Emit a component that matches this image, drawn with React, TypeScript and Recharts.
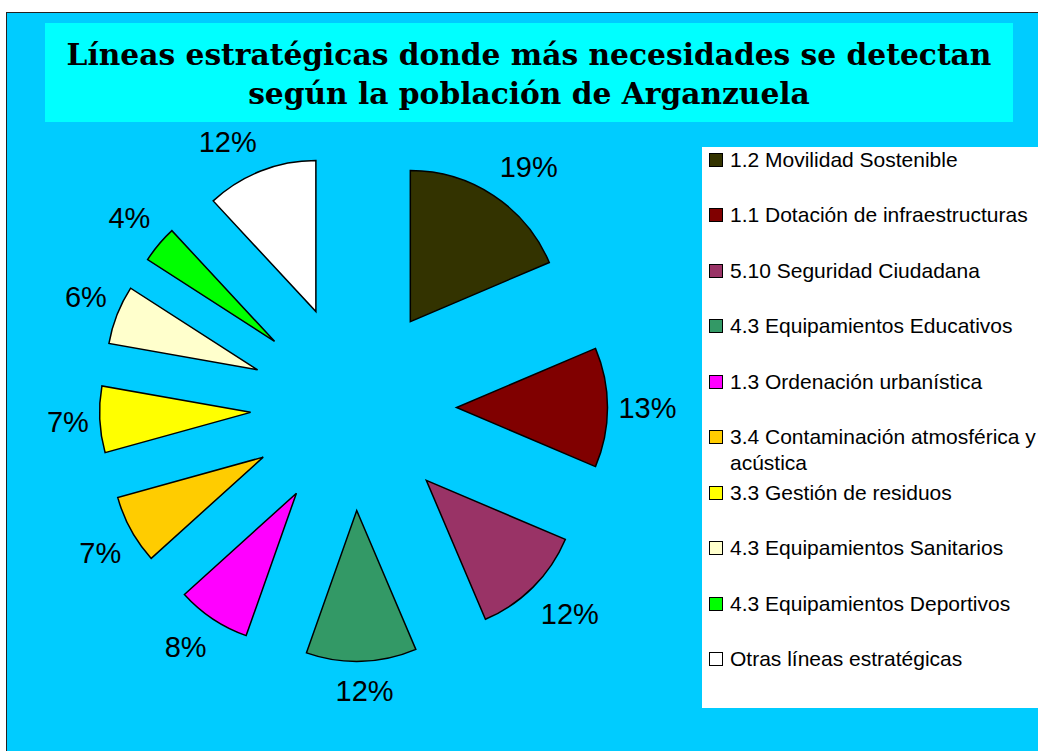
import React from 'react';
import { PieChart, Pie, Legend, Sector } from 'recharts';

// categories in clockwise order, starting at 12 o'clock
const categories = [
  '1.2 Movilidad Sostenible',
  '1.1 Dotación de infraestructuras',
  '5.10 Seguridad Ciudadana',
  '4.3 Equipamientos Educativos',
  '1.3 Ordenación urbanística',
  '3.4 Contaminación atmosférica y acústica',
  '3.3 Gestión de residuos',
  '4.3 Equipamientos Sanitarios',
  '4.3 Equipamientos Deportivos',
  'Otras líneas estratégicas',
];
const shares = [18.6, 12.8, 12.2, 11.8, 7.9, 7.4, 7.1, 6.3, 4.0, 11.9];
const colors = ['#333300', '#800000', '#993366', '#339966', '#FF00FF', '#FFCC00', '#FFFF00', '#FFFFCC', '#00FF00', '#FFFFFF'];
const titleLines = ['Líneas estratégicas donde más necesidades se detectan', 'según la población de Arganzuela'];

const data = categories.map((name, i) => ({ name, value: shares[i] }));

const EXPLODE = 103;
const LABEL_GAP = 265;
const LABEL_FONT = 29;
const RAD = Math.PI / 180;
const SANS = "'Liberation Sans', Arial, sans-serif";

const clamp = (v: number) => Math.max(-1, Math.min(1, v));

// each slice is drawn pushed out along its mid angle, with its percentage further out
const renderSlice = (props: any) => {
  const { cx, cy, midAngle, startAngle, endAngle, outerRadius, percent, index } = props;
  const ux = Math.cos(-midAngle * RAD);
  const uy = Math.sin(-midAngle * RAD);
  const text = `${Math.round(percent * 100)}%`;
  // keep the text box just outside the gap radius, on the outer side
  const halfW = ((text.length - 1) * 0.556 + 0.889) * LABEL_FONT / 2;
  const halfH = 19;
  const lx = cx + LABEL_GAP * ux + halfW * clamp(ux * 3);
  const ly = cy + LABEL_GAP * uy + halfH * clamp(uy * 2);
  return (
    <g key={`slice-${index}`}>
      <Sector
        cx={cx + EXPLODE * ux}
        cy={cy + EXPLODE * uy}
        innerRadius={0}
        outerRadius={outerRadius}
        startAngle={startAngle}
        endAngle={endAngle}
        fill={colors[index]}
        stroke="#000"
        strokeWidth={1.5}
      />
      <text
        x={lx}
        y={ly}
        textAnchor="middle"
        dominantBaseline="central"
        fontSize={LABEL_FONT}
        fontFamily={SANS}
        fill="#000"
      >
        {text}
      </text>
    </g>
  );
};

const renderLegend = () => (
  <div style={{ position: 'relative', width: 336, height: 561, fontFamily: SANS, fontSize: 21, color: '#000' }}>
    {categories.map((name, i) => (
      <div key={name} style={{ position: 'absolute', left: 7, top: i * 55.45, display: 'flex', alignItems: 'flex-start' }}>
        <div
          style={{
            width: 14,
            height: 14,
            marginTop: 6,
            boxSizing: 'border-box',
            border: '1.5px solid #000',
            background: colors[i],
            flex: 'none',
          }}
        />
        <div style={{ marginLeft: 7, width: 310, lineHeight: '26px' }}>{name}</div>
      </div>
    ))}
  </div>
);

export default function App() {
  return (
    <div style={{ position: 'absolute', left: 0, top: 0, width: 1038, height: 751, overflow: 'hidden', background: '#fff' }}>
      <div
        style={{
          position: 'absolute',
          left: 6,
          top: 11.5,
          width: 1100,
          height: 800,
          borderLeft: '1.5px solid #222',
          borderTop: '1.5px solid #222',
          background: '#00CCFF',
        }}
      />
      <div
        style={{
          position: 'absolute',
          left: 45,
          top: 23,
          width: 968,
          height: 99,
          background: '#00FFFF',
          textAlign: 'center',
          fontFamily: "'DejaVu Serif', serif",
          fontWeight: 'bold',
          fontSize: 29.7,
          lineHeight: '39px',
          paddingTop: 12,
          boxSizing: 'border-box',
          color: '#000',
        }}
      >
        {titleLines.map((t) => (
          <div key={t}>{t}</div>
        ))}
      </div>
      <PieChart width={1038} height={751} margin={{ top: 0, right: 0, bottom: 0, left: 0 }} style={{ position: 'absolute', left: 0, top: 0 }}>
        <Pie
          data={data}
          dataKey="value"
          nameKey="name"
          cx={353.5}
          cy={407.5}
          innerRadius={0}
          outerRadius={151}
          startAngle={90}
          endAngle={-270}
          fill="transparent"
          stroke="none"
          label={renderSlice}
          labelLine={false}
          isAnimationActive={false}
        />
        <Legend
          layout="vertical"
          align="right"
          verticalAlign="top"
          content={renderLegend}
          wrapperStyle={{ left: 702, top: 147, width: 336, height: 561, background: '#fff' }}
        />
      </PieChart>
    </div>
  );
}
